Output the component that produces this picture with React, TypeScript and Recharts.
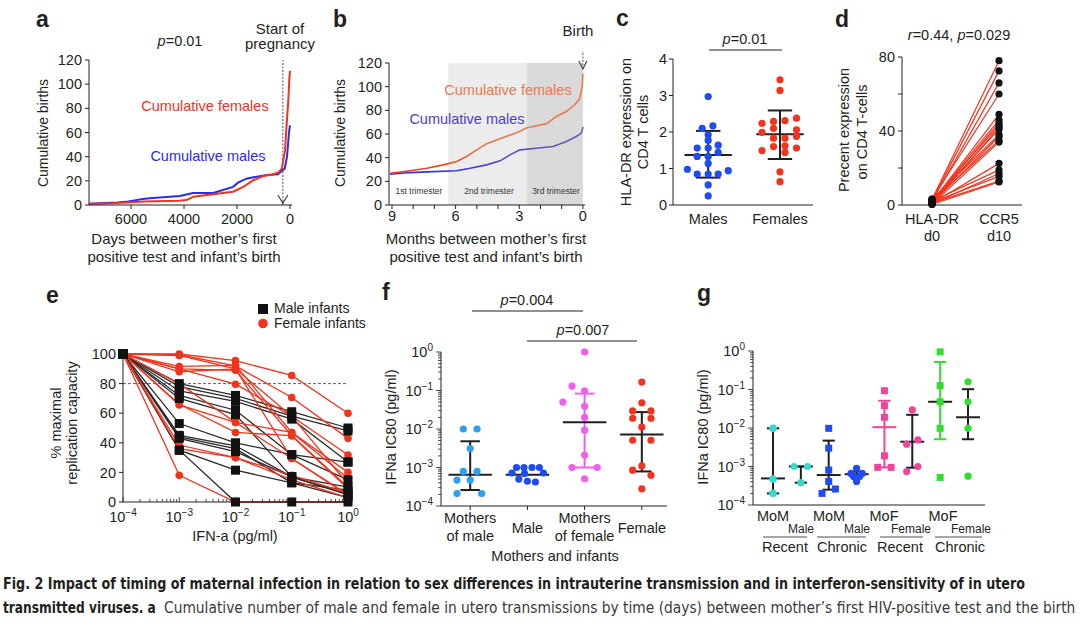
import React from "react";
import {
  ComposedChart,
  Line,
  Scatter,
  XAxis,
  YAxis,
  ReferenceLine,
  ReferenceArea,
  ReferenceDot,
} from "recharts";

const FONT = '"Liberation Sans", Arial, Helvetica, sans-serif';
const CAPTION_FONT =
  '"Liberation Sans Narrow", "DejaVu Sans Condensed", "Roboto Condensed", "Liberation Sans", sans-serif';
const INK = "#231f20";
const RED = "#f2331d";
const BLUE = "#2a2cec";
const ORANGE = "#e8794f";
const PURPLE = "#4b3fd0";
const C_BLUE = "#1d4cf2";
const F_SKY = "#2c9ff0";
const F_MAGENTA = "#ee5ef0";
const G_CYAN = "#3ad8cc";
const G_PINK = "#f0449c";
const G_GREEN = "#2fde2f";

// ---- a: cumulative births by days between first positive test and birth
const aMaleDays = [7580, 6500, 6100, 5550, 5300, 4150, 3660, 2900, 2150, 1960, 1620, 1250, 870, 450, 377, 200, 113, 38, 0];
const aMaleBirths = [1, 2, 3, 5, 5.5, 7.4, 10, 10, 15, 18.5, 22, 23.4, 24.8, 25.5, 27, 30, 40, 60, 66];
const aFemaleDays = [7580, 6700, 5500, 4200, 3900, 3650, 2900, 2150, 1760, 1380, 1000, 700, 440, 310, 190, 126, 63, 25, 0];
const aFemaleBirths = [1, 1.5, 2.8, 3.5, 4.1, 6.9, 8.8, 11, 15, 20.5, 24, 25, 27, 30, 45, 67, 87, 105, 111];

// ---- b: same, last nine months
const bMaleMonths = [9.09, 8.15, 7.05, 5.95, 5.32, 4.54, 3.9, 3.44, 2.97, 2.19, 1.4, 0.78, 0.31, 0.08, 0.03, 0];
const bMaleBirths = [26, 27.4, 28.2, 29, 31, 33.9, 37.3, 42.4, 46.6, 48, 49.4, 53.7, 57.9, 60.7, 63, 66];
const bFemaleMonths = [9.09, 8.15, 7.36, 6.58, 5.95, 5.48, 5.01, 4.54, 4.07, 3.6, 3.13, 2.66, 2.19, 1.72, 1.25, 0.78, 0.39, 0.16, 0.03, 0];
const bFemaleBirths = [26.8, 29, 31, 33.9, 36.7, 41, 46.6, 51.7, 55, 58, 61, 65, 67, 68.6, 74.8, 79, 84.7, 89.5, 100, 111];
const bTrimesterEdges = [6.35, 2.65, 0];

// ---- c: HLA-DR on CD4 T cells
const cLabels = ["Males", "Females"];
const cMaleJitter = [0, -0.083, 0.065, 0, 0, -0.153, 0, 0.139, -0.153, 0, 0.139, 0, -0.29, 0.28, -0.153, 0, 0.139, 0, 0];
const cMaleHLA = [2.97, 2.1, 2.17, 1.92, 1.77, 1.56, 1.56, 1.64, 1.33, 1.33, 1.44, 1.14, 0.98, 0.94, 0.85, 0.85, 0.85, 0.55, 0.25];
const cFemaleJitter = [0, 0, -0.25, -0.09, 0.07, 0.23, -0.25, -0.09, 0.23, -0.09, 0.07, 0.23, -0.09, 0.07, -0.25, 0.07, 0.23, 0, 0];
const cFemaleHLA = [3.43, 3.14, 2.24, 2.29, 2.31, 2.38, 1.99, 2.1, 2.06, 1.83, 1.83, 1.88, 1.6, 1.62, 1.49, 1.44, 1.56, 0.91, 0.64];
const cMean = [1.37, 1.94];
const cLow = [0.75, 1.26];
const cHigh = [2.03, 2.59];

// ---- d: HLA-DR d0 vs CCR5 d10
const dLabels = [["HLA-DR", "d0"], ["CCR5", "d10"]];
const dDay0 = [3, 2.5, 2, 3.2, 1.5, 2, 1, 2.5, 0.5, 1.5, 3, 1, 2, 0.5, 1, 2, 0.5, 1.5, 1, 0.3];
const dDay10 = [78, 72.5, 66, 60, 49, 46, 44.5, 43, 42, 41, 38, 37, 35, 34, 22.5, 19, 17, 15.5, 13, 12.5];

// ---- e: replication vs IFN-a dose
const eDoses = [1e-4, 1e-3, 1e-2, 1e-1, 1];
const eMale = [
  [100, 80, 72, 61, 50],
  [100, 78, 70, 58, 48],
  [100, 75, 68, 56, 27],
  [100, 72, 62, 32, 15],
  [100, 70, 59, 17, 5],
  [100, 53, 40, 32, 27],
  [100, 45, 38, 17, 10],
  [100, 44, 36, 13, 8],
  [100, 43, 34, 17, 5],
  [100, 35, 21.5, 13, 3],
  [100, 35, 0, 0, 0],
];
const eFemale = [
  [100, 100, 95.5, 85.5, 60],
  [100, 99.5, 92, 70.6, 43],
  [100, 99, 90, 58, 31.7],
  [100, 91.6, 92.3, 47, 16],
  [100, 90, 89, 44.8, 9],
  [100, 90, 79.6, 58, 12],
  [100, 88, 90, 29.4, 4.5],
  [100, 80, 53.8, 47, 20],
  [100, 66, 47, 44.8, 10],
  [100, 65.6, 53.8, 29.4, 5],
  [100, 38.5, 30, 18, 6],
  [100, 36, 30, 15, 3],
  [100, 18, 0, 0, 0],
];

// ---- f: IFNa IC80, mothers and infants
const fLabels = [["Mothers", "of male"], ["Male"], ["Mothers", "of female"], ["Female"]];
const fMoMJitter = [-0.12, 0.12, 0, -0.12, 0.12, -0.23, 0, -0.23, 0.2];
const fMoMIC80 = [0.01, 0.01, 0.0031, 0.00079, 0.00079, 0.00047, 0.00047, 0.00021, 0.00021];
const fMaleJitter = [-0.19, -0.06, 0.08, 0.21, -0.27, 0.28, -0.15, 0, 0.14, -0.05];
const fMaleIC80 = [0.001, 0.001, 0.001, 0.001, 0.00072, 0.00072, 0.0005, 0.00044, 0.00042, 0.0007];
const fMoFJitter = [0, -0.22, 0, -0.38, 0, 0, 0, 0, -0.22, 0.22, 0];
const fMoFIC80 = [1, 0.13, 0.098, 0.05, 0.039, 0.02, 0.0093, 0.0021, 0.001, 0.001, 0.00051];
const fFemaleJitter = [0, 0, -0.16, 0.16, -0.16, 0.16, 0, -0.16, 0.16, 0, -0.16, 0.16, 0];
const fFemaleIC80 = [0.166, 0.048, 0.0295, 0.0295, 0.019, 0.019, 0.0112, 0.0051, 0.0051, 0.0011, 0.00085, 0.00063, 0.00028];
const fMedian = [0.00065, 0.00065, 0.015, 0.0072];
const fLow = [0.00026, null, 0.001, 0.00079];
const fHigh = [0.0048, null, 0.083, 0.0275];

// ---- g: IFNa IC80 by timing of maternal infection
const gMoMRecentIC80 = [0.0098, 0.00047, 0.0002];
const gMaleRecentJitter = [-0.24, 0.24, 0];
const gMaleRecentIC80 = [0.001, 0.001, 0.00038];
const gMoMChronicJitter = [0, 0, 0, 0, -0.24, 0.24];
const gMoMChronicIC80 = [0.0098, 0.003, 0.00081, 0.00041, 0.0002, 0.00026];
const gMaleChronicJitter = [0, -0.2, 0.2, 0, -0.1, 0.1];
const gMaleChronicIC80 = [0.0009, 0.00066, 0.00066, 0.00041, 0.00055, 0.00055];
const gMoFRecentJitter = [0, 0, 0, 0, -0.24, 0.24];
const gMoFRecentIC80 = [0.093, 0.038, 0.019, 0.0019, 0.00095, 0.00095];
const gFemaleRecentJitter = [0, -0.2, 0.2, 0.2, -0.2];
const gFemaleRecentIC80 = [0.0295, 0.0038, 0.0049, 0.001, 0.00074];
const gMoFChronicIC80 = [0.95, 0.126, 0.048, 0.0098, 0.00052];
const gFemaleChronicIC80 = [0.158, 0.048, 0.0098, 0.00056];
const gMedian = [0.00049, 0.001, 0.0006, 0.00063, 0.0105, 0.0044, 0.048, 0.019];
const gLow = [0.0002, 0.00038, 0.00025, 0.00051, 0.00095, 0.00093, 0.0051, 0.0051];
const gHigh = [0.0098, 0.001, 0.0047, 0.00074, 0.051, 0.022, 0.52, 0.102];

const captionBold1 =
  "Fig. 2 Impact of timing of maternal infection in relation to sex differences in intrauterine transmission and in interferon-sensitivity of in utero";
const captionBold2 = "transmitted viruses. a";
const captionText2 =
  "Cumulative number of male and female in utero transmissions by time (days) between mother’s first HIV-positive test and the birth";

const logTicks = [1e-4, 1e-3, 1e-2, 1e-1].flatMap((d) => [1, 2, 3, 4, 5, 6, 7, 8, 9].map((k) => k * d)).concat([1]);

const PAD = 12;
const MARGIN = { top: PAD, right: PAD, bottom: 0, left: 0 };
const axisLine = { stroke: INK, strokeWidth: 1 };
const tickFont = { fontSize: 14.5, fill: INK, fontFamily: FONT };

function frame(x0: number, y0: number, x1: number, y1: number, yw: number, xh: number) {
  const width = x1 - x0 + yw + PAD;
  const height = y1 - y0 + PAD + xh;
  const box: React.CSSProperties = { position: "absolute", left: x0 - yw, top: y0 - PAD, width, height };
  return { box, width, height };
}

const pts = (xs: number[], ys: number[]) => xs.map((x, i) => ({ x, y: ys[i] }));
const jit = (c: number, offs: number[], ys: number[]) => ys.map((y, i) => ({ x: c + (offs[i] ?? 0), y }));

const dot = (r: number, fill: string) => (p: any) => <circle cx={p.cx} cy={p.cy} r={r} fill={fill} />;
const square = (s: number, fill: string) => (p: any) => (
  <rect x={p.cx - s / 2} y={p.cy - s / 2} width={s} height={s} fill={fill} />
);

function whisker(id: string, x: number, mid: number, lo: number | null, hi: number | null, bar: string, midColor: string, midHalf: number, capHalf: number) {
  const seg = (k: string, a: [number, number], b: [number, number], color: string) => (
    <ReferenceLine
      key={id + k}
      segment={[{ x: a[0], y: a[1] }, { x: b[0], y: b[1] }]}
      stroke={color}
      strokeWidth={2}
      ifOverflow="visible"
    />
  );
  const out = [];
  if (lo !== null && hi !== null) {
    out.push(seg("v", [x, lo], [x, hi], bar));
    out.push(seg("l", [x - capHalf, lo], [x + capHalf, lo], bar));
    out.push(seg("h", [x - capHalf, hi], [x + capHalf, hi], bar));
  }
  out.push(seg("m", [x - midHalf, mid], [x + midHalf, mid], midColor));
  return out;
}

function sup(v: number) {
  const e = Math.round(Math.log10(v));
  return e === 0 ? "0" : "\u2212" + Math.abs(e);
}
const isDecade = (v: number) => {
  const e = Math.log10(v);
  return Math.abs(e - Math.round(e)) < 1e-6;
};

function LogYTick({ x, y, payload }: any) {
  const major = isDecade(payload.value);
  return (
    <g>
      <line x1={x - (major ? 5 : 3)} x2={x} y1={y} y2={y} stroke={INK} strokeWidth={0.8} />
      {major && (
        <text x={x - 8} y={y + 5} textAnchor="end" fontSize={14.5} fill={INK} fontFamily={FONT}>
          10<tspan dy={-6} fontSize={10}>{sup(payload.value)}</tspan>
        </text>
      )}
    </g>
  );
}

function LogXTick({ x, y, payload }: any) {
  const major = isDecade(payload.value);
  return (
    <g>
      <line x1={x} x2={x} y1={y} y2={y - (major ? 5 : 3)} stroke={INK} strokeWidth={0.8} />
      {major && (
        <text x={x} y={y + 20} textAnchor="middle" fontSize={14.5} fill={INK} fontFamily={FONT}>
          10<tspan dy={-6} fontSize={10}>{sup(payload.value)}</tspan>
        </text>
      )}
    </g>
  );
}

const multiTick = (rows: string[][], first2: number, gap: number, single: number) => (props: any) => {
  const { x, y, payload } = props;
  const lines = rows[Math.round(payload.value) - 1] || [];
  return (
    <text x={x} y={y + (lines.length > 1 ? first2 : single)} textAnchor="middle" fontSize={14.5} fill={INK} fontFamily={FONT}>
      {lines.map((t, i) => (
        <tspan key={i} x={x} dy={i === 0 ? 0 : gap}>
          {t}
        </tspan>
      ))}
    </text>
  );
};

function PanelA() {
  const f = frame(89, 60, 292, 205, 40, 30);
  const arrow = (p: any) => (
    <path d={`M${p.cx - 5},${p.cy - 10} L${p.cx},${p.cy - 2} L${p.cx + 5},${p.cy - 10}`} stroke="#444" fill="none" strokeWidth={1.2} />
  );
  return (
    <div style={f.box}>
      <ComposedChart width={f.width} height={f.height} margin={MARGIN}>
        <XAxis type="number" dataKey="x" domain={[-75, 7585]} reversed ticks={[6000, 4000, 2000, 0]} interval={0} tick={tickFont} tickSize={4} tickMargin={5} axisLine={axisLine} tickLine={axisLine} height={30} />
        <YAxis type="number" dataKey="y" domain={[0, 120]} ticks={[0, 20, 40, 60, 80, 100, 120]} interval={0} width={40} tick={tickFont} tickSize={4} tickMargin={3} axisLine={axisLine} tickLine={axisLine} />
        <ReferenceLine x={270} stroke="#555" strokeDasharray="2 1.5" strokeWidth={1} />
        <ReferenceDot x={270} y={0} r={0} shape={arrow} ifOverflow="visible" />
        <Line data={pts(aMaleDays, aMaleBirths)} dataKey="y" stroke={BLUE} strokeWidth={2} dot={false} isAnimationActive={false} />
        <Line data={pts(aFemaleDays, aFemaleBirths)} dataKey="y" stroke={RED} strokeWidth={2} dot={false} isAnimationActive={false} />
      </ComposedChart>
    </div>
  );
}

function PanelB() {
  const f = frame(389, 63, 585, 205, 40, 30);
  const birth = (p: any) => (
    <g>
      <line x1={p.cx} x2={p.cx} y1={p.cy - 24} y2={p.cy + 6} stroke="#555" strokeDasharray="2 1.5" />
      <path d={`M${p.cx - 4},${p.cy - 2} L${p.cx},${p.cy + 6} L${p.cx + 4},${p.cy - 2}`} stroke="#444" fill="none" strokeWidth={1.2} />
    </g>
  );
  return (
    <div style={f.box}>
      <ComposedChart width={f.width} height={f.height} margin={MARGIN}>
        <defs>
          <linearGradient id="bFem" x1="0" x2="1" y1="0" y2="0">
            <stop offset="0%" stopColor="#ea3a22" />
            <stop offset="30%" stopColor="#ea4a2a" />
            <stop offset="48%" stopColor={ORANGE} />
            <stop offset="100%" stopColor={ORANGE} />
          </linearGradient>
          <linearGradient id="bMal" x1="0" x2="1" y1="0" y2="0">
            <stop offset="0%" stopColor="#2634e6" />
            <stop offset="35%" stopColor="#3a36dc" />
            <stop offset="55%" stopColor="#5548c0" />
            <stop offset="100%" stopColor="#6b5cb8" />
          </linearGradient>
        </defs>
        <XAxis type="number" dataKey="x" domain={[-0.1, 9.14]} reversed ticks={[0, 1, 2, 3, 4, 5, 6, 7, 8, 9]} interval={0} tickFormatter={(v) => (v % 3 === 0 ? String(v) : "")} tick={tickFont} tickSize={4} tickMargin={2} axisLine={axisLine} tickLine={axisLine} height={30} />
        <YAxis type="number" dataKey="y" domain={[0, 120]} ticks={[0, 20, 40, 60, 80, 100, 120]} interval={0} width={40} tick={tickFont} tickSize={4} tickMargin={3} axisLine={axisLine} tickLine={axisLine} />
        <ReferenceArea x1={bTrimesterEdges[0]} x2={bTrimesterEdges[1]} y1={0} y2={120} fill="#ececec" fillOpacity={1} stroke="none" />
        <ReferenceArea x1={bTrimesterEdges[1]} x2={bTrimesterEdges[2]} y1={0} y2={120} fill="#dadada" fillOpacity={1} stroke="none" />
        <Line data={pts(bMaleMonths, bMaleBirths)} dataKey="y" stroke="url(#bMal)" strokeWidth={1.6} dot={false} isAnimationActive={false} />
        <Line data={pts(bFemaleMonths, bFemaleBirths)} dataKey="y" stroke="url(#bFem)" strokeWidth={1.6} dot={false} isAnimationActive={false} />
        <ReferenceDot x={0} y={120} r={0} shape={birth} ifOverflow="visible" />
      </ComposedChart>
    </div>
  );
}

function PanelC() {
  const f = frame(673, 59, 813, 205, 36, 30);
  return (
    <div style={f.box}>
      <ComposedChart width={f.width} height={f.height} margin={MARGIN}>
        <XAxis type="number" dataKey="x" domain={[0.51, 2.46]} ticks={[1, 2]} interval={0} tickFormatter={(v) => cLabels[v - 1]} tick={tickFont} tickSize={4} tickMargin={5} tickLine={false} axisLine={axisLine} height={30} />
        <YAxis type="number" dataKey="y" domain={[0, 4]} ticks={[0, 1, 2, 3, 4]} interval={0} width={36} tick={tickFont} tickSize={4} tickMargin={2} axisLine={axisLine} tickLine={axisLine} />
        <Scatter data={jit(1, cMaleJitter, cMaleHLA)} dataKey="y" shape={dot(3.6, C_BLUE)} isAnimationActive={false} />
        <Scatter data={jit(2, cFemaleJitter, cFemaleHLA)} dataKey="y" shape={dot(3.6, RED)} isAnimationActive={false} />
        {cMean.flatMap((m, i) => whisker(`c${i}`, i + 1, m, cLow[i], cHigh[i], INK, INK, 0.33, 0.17))}
      </ComposedChart>
    </div>
  );
}

function PanelD() {
  const f = frame(902, 57, 1022, 205, 38, 40);
  const ends = dDay0.map((y) => ({ x: 1, y })).concat(dDay10.map((y) => ({ x: 2, y })));
  return (
    <div style={f.box}>
      <ComposedChart width={f.width} height={f.height} margin={MARGIN}>
        <XAxis type="number" dataKey="x" domain={[0.552, 2.343]} ticks={[1, 2]} interval={0} tick={multiTick(dLabels, 19, 17, 19)} tickSize={0} tickMargin={0} tickLine={false} axisLine={axisLine} height={40} />
        <YAxis type="number" dataKey="y" domain={[0, 80]} ticks={[0, 20, 40, 60, 80]} interval={0} tickFormatter={(v) => (v % 40 === 0 ? String(v) : "")} width={38} tick={tickFont} tickSize={4} tickMargin={3} axisLine={axisLine} tickLine={axisLine} />
        {dDay0.map((v0, i) => (
          <Line key={`d${i}`} data={[{ x: 1, y: v0 }, { x: 2, y: dDay10[i] }]} dataKey="y" stroke={RED} strokeWidth={1.2} dot={false} isAnimationActive={false} />
        ))}
        <Scatter data={ends} dataKey="y" shape={dot(3.6, "#111")} isAnimationActive={false} />
      </ComposedChart>
    </div>
  );
}

function PanelE() {
  const f = frame(123, 354, 348, 502, 40, 45);
  const femDots = eFemale.flatMap((row) => pts(eDoses, row));
  const maleDots = eMale.flatMap((row) => pts(eDoses, row));
  return (
    <div style={f.box}>
      <ComposedChart width={f.width} height={f.height} margin={MARGIN}>
        <XAxis type="number" dataKey="x" scale="log" domain={[1e-4, 1]} ticks={logTicks} interval={0} tick={(p: any) => <LogXTick {...p} />} tickSize={0} tickMargin={0} tickLine={false} axisLine={axisLine} height={45} />
        <YAxis type="number" dataKey="y" domain={[0, 100]} ticks={[0, 20, 40, 60, 80, 100]} interval={0} width={40} tick={tickFont} tickSize={4} tickMargin={3} axisLine={axisLine} tickLine={axisLine} />
        <ReferenceLine y={80} stroke="#333" strokeDasharray="3 2" strokeWidth={0.8} />
        {eMale.map((row, i) => (
          <Line key={`em${i}`} data={pts(eDoses, row)} dataKey="y" stroke="#2b2b2b" strokeWidth={1.3} dot={false} isAnimationActive={false} />
        ))}
        {eFemale.map((row, i) => (
          <Line key={`ef${i}`} data={pts(eDoses, row)} dataKey="y" stroke={RED} strokeWidth={1.3} dot={false} isAnimationActive={false} />
        ))}
        <Scatter data={femDots} dataKey="y" shape={dot(3.8, RED)} isAnimationActive={false} />
        <Scatter data={maleDots} dataKey="y" shape={square(9, "#111")} isAnimationActive={false} />
      </ComposedChart>
    </div>
  );
}

function PanelF() {
  const f = frame(441, 352, 667, 506, 52, 45);
  return (
    <div style={f.box}>
      <ComposedChart width={f.width} height={f.height} margin={MARGIN}>
        <XAxis type="number" dataKey="x" domain={[0.49, 4.44]} ticks={[1, 2, 3, 4]} interval={0} tick={multiTick(fLabels, 13, 18, 23)} tickSize={4} tickMargin={0} tickLine={axisLine} axisLine={axisLine} height={45} />
        <YAxis type="number" dataKey="y" scale="log" domain={[1e-4, 1]} ticks={logTicks} interval={0} tick={(p: any) => <LogYTick {...p} />} tickSize={0} tickMargin={0} tickLine={false} axisLine={axisLine} width={52} />
        <Scatter data={jit(1, fMoMJitter, fMoMIC80)} dataKey="y" shape={dot(3.6, F_SKY)} isAnimationActive={false} />
        <Scatter data={jit(2, fMaleJitter, fMaleIC80)} dataKey="y" shape={dot(3.6, C_BLUE)} isAnimationActive={false} />
        <Scatter data={jit(3, fMoFJitter, fMoFIC80)} dataKey="y" shape={dot(3.6, F_MAGENTA)} isAnimationActive={false} />
        <Scatter data={jit(4, fFemaleJitter, fFemaleIC80)} dataKey="y" shape={dot(3.6, RED)} isAnimationActive={false} />
        {fMedian.flatMap((m, i) => whisker(`f${i}`, i + 1, m, fLow[i], fHigh[i], i === 2 ? F_MAGENTA : INK, INK, 0.38, 0.17))}
      </ComposedChart>
    </div>
  );
}

function PanelG() {
  const f = frame(753, 351, 985, 505, 52, 10);
  const barColors = [INK, INK, INK, INK, G_PINK, INK, G_GREEN, INK];
  const midColors = [INK, INK, INK, INK, G_PINK, INK, INK, INK];
  return (
    <div style={f.box}>
      <ComposedChart width={f.width} height={f.height} margin={MARGIN}>
        <XAxis type="number" dataKey="x" domain={[0.282, 8.61]} ticks={[]} tick={false} tickLine={false} axisLine={axisLine} height={10} />
        <YAxis type="number" dataKey="y" scale="log" domain={[1e-4, 1]} ticks={logTicks} interval={0} tick={(p: any) => <LogYTick {...p} />} tickSize={0} tickMargin={0} tickLine={false} axisLine={axisLine} width={52} />
        <Scatter data={jit(1, [], gMoMRecentIC80)} dataKey="y" shape={dot(3.8, G_CYAN)} isAnimationActive={false} />
        <Scatter data={jit(2, gMaleRecentJitter, gMaleRecentIC80)} dataKey="y" shape={dot(3.6, G_CYAN)} isAnimationActive={false} />
        <Scatter data={jit(3, gMoMChronicJitter, gMoMChronicIC80)} dataKey="y" shape={square(7, C_BLUE)} isAnimationActive={false} />
        <Scatter data={jit(4, gMaleChronicJitter, gMaleChronicIC80)} dataKey="y" shape={dot(3.6, C_BLUE)} isAnimationActive={false} />
        <Scatter data={jit(5, gMoFRecentJitter, gMoFRecentIC80)} dataKey="y" shape={square(7, G_PINK)} isAnimationActive={false} />
        <Scatter data={jit(6, gFemaleRecentJitter, gFemaleRecentIC80)} dataKey="y" shape={dot(3.6, G_PINK)} isAnimationActive={false} />
        <Scatter data={jit(7, [], gMoFChronicIC80)} dataKey="y" shape={square(7, G_GREEN)} isAnimationActive={false} />
        <Scatter data={jit(8, [], gFemaleChronicIC80)} dataKey="y" shape={dot(3.6, G_GREEN)} isAnimationActive={false} />
        {gMedian.flatMap((m, i) => whisker(`g${i}`, i + 1, m, gLow[i], gHigh[i], barColors[i], midColors[i], 0.43, 0.22))}
      </ComposedChart>
    </div>
  );
}

function Txt({ x, y, s = 14.5, a = "middle", c = INK, w = 400, r = false, children }: any) {
  return (
    <text x={x} y={y} fontSize={s} textAnchor={a} fill={c} fontWeight={w} fontFamily={FONT} transform={r ? `rotate(-90 ${x} ${y})` : undefined}>
      {children}
    </text>
  );
}
const P = ({ children }: any) => <tspan fontStyle="italic">{children}</tspan>;

// caption lines: laid out in the condensed font, then squeezed to the reference width
function FitText({ x, y, width, bold = false, color = INK, children }: any) {
  const ref = React.useRef<SVGTextElement>(null);
  const [k, setK] = React.useState(1);
  React.useLayoutEffect(() => {
    const len = ref.current ? ref.current.getComputedTextLength() : 0;
    if (len > 0) setK(width / len);
  }, [width]);
  return (
    <text
      ref={ref}
      x={x}
      y={y}
      fontFamily={CAPTION_FONT}
      fontSize={16}
      fontWeight={bold ? 700 : 400}
      fill={color}
      transform={`translate(${x} 0) scale(${k} 1) translate(${-x} 0)`}
    >
      {children}
    </text>
  );
}

function GroupLabel({ mx, mother, ix, infant, x1, x2, cx, period }: any) {
  return (
    <g>
      <Txt x={mx} y={521}>{mother}</Txt>
      <Txt x={ix} y={533} s={12}>{infant}</Txt>
      <line x1={x1} x2={x2} y1={537} y2={537} stroke={INK} strokeWidth={0.8} />
      <Txt x={cx} y={552}>{period}</Txt>
    </g>
  );
}

function Overlay() {
  return (
    <svg width={1080} height={627} style={{ position: "absolute", left: 0, top: 0, pointerEvents: "none" }}>
      <Txt x={36} y={27} s={23} w={700} a="start">a</Txt>
      <Txt x={333} y={27} s={23} w={700} a="start">b</Txt>
      <Txt x={616} y={26} s={23} w={700} a="start">c</Txt>
      <Txt x={835} y={27} s={23} w={700} a="start">d</Txt>
      <Txt x={46} y={303} s={23} w={700} a="start">e</Txt>
      <Txt x={382} y={300} s={23} w={700} a="start">f</Txt>
      <Txt x={697} y={301} s={23} w={700} a="start">g</Txt>

      <Txt x={180} y={46}><P>p</P>=0.01</Txt>
      <Txt x={280} y={34} s={15}>Start of</Txt>
      <Txt x={280} y={49} s={15}>pregnancy</Txt>
      <Txt x={205} y={111} c={RED}>Cumulative females</Txt>
      <Txt x={208} y={161} c={BLUE}>Cumulative males</Txt>
      <Txt x={48} y={133} s={14} r>Cumulative births</Txt>
      <Txt x={184} y={244} s={15}>Days between mother’s first</Txt>
      <Txt x={184} y={262} s={15}>positive test and infant’s birth</Txt>

      <Txt x={578} y={36} s={15}>Birth</Txt>
      <Txt x={508} y={95} c={ORANGE}>Cumulative females</Txt>
      <Txt x={467} y={124} c={PURPLE}>Cumulative males</Txt>
      <Txt x={345} y={133} s={14} r>Cumulative births</Txt>
      <Txt x={419} y={194} s={8.5} c="#333">1st trimester</Txt>
      <Txt x={489} y={194} s={8.5} c="#333">2nd trimester</Txt>
      <Txt x={556} y={194} s={8.5} c="#333">3rd trimester</Txt>
      <Txt x={486} y={244} s={15}>Months between mother’s first</Txt>
      <Txt x={486} y={262} s={15}>positive test and infant’s birth</Txt>

      <Txt x={745} y={44}><P>p</P>=0.01</Txt>
      <line x1={709} x2={782} y1={50} y2={50} stroke={INK} strokeWidth={1} />
      <Txt x={631} y={132} r>HLA-DR expression on</Txt>
      <Txt x={648} y={132} r>CD4 T cells</Txt>

      <Txt x={959} y={40}><P>r</P>=0.44, <P>p</P>=0.029</Txt>
      <Txt x={849} y={130} r>Precent expression</Txt>
      <Txt x={867} y={132} r>on CD4 T-cells</Txt>

      <rect x={258} y={304} width={10} height={10} fill="#111" />
      <Txt x={274} y={313} s={14} a="start">Male infants</Txt>
      <circle cx={263} cy={323.5} r={4.8} fill={RED} />
      <Txt x={274} y={328} s={14} a="start">Female infants</Txt>
      <Txt x={61} y={423} r>% maximal</Txt>
      <Txt x={77} y={423} r>replication capacity</Txt>
      <Txt x={235} y={541}>IFN-a (pg/ml)</Txt>

      <Txt x={527} y={305}><P>p</P>=0.004</Txt>
      <line x1={472} x2={583} y1={311} y2={311} stroke={INK} strokeWidth={1} />
      <Txt x={583} y={335}><P>p</P>=0.007</Txt>
      <line x1={527} x2={637} y1={341} y2={341} stroke={INK} strokeWidth={1} />
      <Txt x={396} y={427} r>IFNa IC80 (pg/ml)</Txt>
      <Txt x={555} y={561}>Mothers and infants</Txt>

      <Txt x={708} y={427} r>IFNa IC80 (pg/ml)</Txt>
      <GroupLabel mx={773} mother="MoM" ix={801} infant="Male" x1={763} x2={807} cx={785} period="Recent" />
      <GroupLabel mx={829} mother="MoM" ix={857} infant="Male" x1={817} x2={866} cx={842} period="Chronic" />
      <GroupLabel mx={884} mother="MoF" ix={911} infant="Female" x1={880} x2={923} cx={900} period="Recent" />
      <GroupLabel mx={943} mother="MoF" ix={971} infant="Female" x1={935} x2={982} cx={960} period="Chronic" />

      <FitText x={3} y={589} width={1023} bold>{captionBold1}</FitText>
      <FitText x={3} y={613} width={153} bold>{captionBold2}</FitText>
      <FitText x={164} y={613} width={912} color="#3a3a3a">{captionText2}</FitText>
    </svg>
  );
}

export default function App() {
  return (
    <div style={{ position: "fixed", left: 0, top: 0, width: 1080, height: 627, background: "#fff", overflow: "hidden", fontFamily: FONT }}>
      <PanelA />
      <PanelB />
      <PanelC />
      <PanelD />
      <PanelE />
      <PanelF />
      <PanelG />
      <Overlay />
    </div>
  );
}
